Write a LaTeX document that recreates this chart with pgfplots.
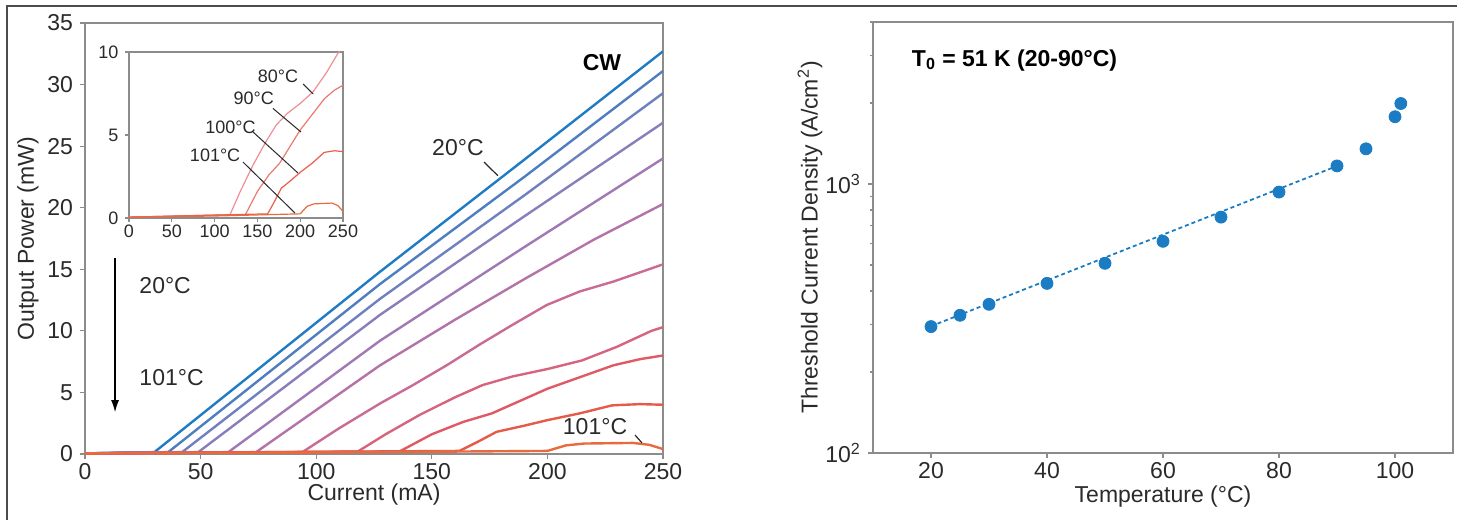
\documentclass[border=0pt]{standalone}
\usepackage{fontspec}
\setmainfont{Liberation Sans}
\usepackage{pgfplots}
\pgfplotsset{compat=1.18}
\usetikzlibrary{arrows.meta}

\definecolor{axgray}{HTML}{8C8C8C}
\definecolor{txt}{HTML}{2A2A2A}
\definecolor{c20}{HTML}{1F7BC4}
\definecolor{c25}{HTML}{4F7EC0}
\definecolor{c30}{HTML}{6F80BE}
\definecolor{c40}{HTML}{8A7DBA}
\definecolor{c50}{HTML}{9F78B4}
\definecolor{c60}{HTML}{B473A8}
\definecolor{c70}{HTML}{C86B95}
\definecolor{c80}{HTML}{D6647E}
\definecolor{c90}{HTML}{E05A65}
\definecolor{c100}{HTML}{E55A48}
\definecolor{c101}{HTML}{EA6A40}
\definecolor{i80}{HTML}{EE8E96}
\definecolor{i90}{HTML}{EC7A70}
\definecolor{i100}{HTML}{E8604A}
\definecolor{dot}{HTML}{1B7CC4}

\pgfplotsset{
  panel/.style={
    scale only axis,
    axis line style={draw=axgray, line width=0.6pt},
    every tick/.style={draw=axgray, line width=0.6pt},
    tick align=outside,
    xtick pos=left, ytick pos=left,
    major tick length=2.5pt, minor tick length=1.5pt,
    ticklabel style={font=\fontsize{11.5}{13}\selectfont, text=txt},
    xticklabel style={yshift=1.5pt},
    label style={font=\fontsize{11.5}{13}\selectfont, text=txt},
    /pgf/number format/assume math mode=true,
  },
}

\begin{document}
\begin{tikzpicture}
\useasboundingbox (0,0) rectangle (728.5pt,260pt);
\draw[color=black!70, line width=0.7pt] (3.5pt,0) -- (3.5pt,257pt) -- (728.5pt,257pt);

% left panel: L-I curves
\begin{axis}[panel,
    at={(42.5pt,33pt)}, anchor=south west,
    width=289pt, height=215.5pt,
    xmin=0, xmax=250, ymin=0, ymax=35,
    xtick={0,50,...,250}, ytick={0,5,...,35},
    xlabel={Current (mA)}, ylabel={Output Power (mW)},
    xlabel style={at={(axis description cs:0.5,-0.095)}, anchor=center},
    ylabel style={at={(axis description cs:-0.0986,0.5)}, anchor=center},
    no markers, every axis plot/.append style={line width=1.2pt, line join=round},
]
\addplot[c20] coordinates {(0,0.05) (30,0.15) (127.6,14.8) (190,23.9) (250,32.7)};
\addplot[c25] coordinates {(0,0.05) (36,0.15) (127.6,13.8) (190,22.5) (250,31.1)};
\addplot[c30] coordinates {(0,0.05) (42,0.15) (127.6,12.6) (190,21.0) (250,29.3)};
\addplot[c40] coordinates {(0,0.05) (49,0.15) (127.6,11.3) (190,19.3) (250,26.9)};
\addplot[c50] coordinates {(0,0.05) (62,0.15) (127.6,9.2) (190,16.8) (250,24.0)};
\addplot[c60] coordinates {(0,0.05) (74,0.15) (127.6,7.2) (160,10.9) (190,14.2) (220,17.4) (250,20.3)};
\addplot[c70] coordinates {(0,0.05) (94,0.15) (110,2.1) (127.6,4.1) (141.9,5.6) (156.4,7.2) (170.8,8.9) (185,10.5) (199.7,12.1) (214,13.2) (228.5,14.0) (250,15.4)};
\addplot[c80] coordinates {(0,0.05) (118,0.2) (130,1.6) (145,3.2) (160,4.6) (172,5.6) (185,6.3) (200,6.9) (215,7.6) (230,8.7) (245,10.0) (250,10.3)};
\addplot[c90] coordinates {(0,0.05) (136,0.2) (150,1.6) (163.5,2.6) (176,3.3) (188,4.3) (200,5.3) (215,6.3) (228.5,7.2) (240,7.7) (250,8.0)};
\addplot[c100] coordinates {(0,0.05) (162,0.25) (170,1.0) (178,1.8) (190,2.3) (200,2.75) (214,3.3) (228,3.95) (240,4.05) (250,4.0)};
\addplot[c101] coordinates {(0,0.05) (100,0.12) (200,0.25) (208,0.7) (216,0.85) (237,0.9) (244,0.75) (250,0.4)};

\node[font=\fontsize{11.5}{13}\selectfont\bfseries, text=black] at (axis cs:223.6,31.8) {CW};
\node[font=\fontsize{11.5}{13}\selectfont, text=txt] at (axis cs:161.3,24.85) {20°C};
\draw[txt, line width=0.6pt] (axis cs:172.6,23.7) -- (axis cs:178.6,22.6);
\node[font=\fontsize{11.5}{13}\selectfont, text=txt] at (axis cs:220.6,2.2) {101°C};
\draw[txt, line width=0.6pt] (axis cs:237.9,1.54) -- (axis cs:240.9,0.9);
\draw[black, line width=0.6pt, -{Latex[length=6pt,width=4pt]}] (axis cs:13,15.9) -- (axis cs:13,3.4);
\node[anchor=west, font=\fontsize{11.5}{13}\selectfont, text=txt] at (axis cs:20.5,13.7) {20°C};
\node[anchor=west, font=\fontsize{11.5}{13}\selectfont, text=txt] at (axis cs:20.5,6.2) {101°C};
\end{axis}

% inset
\begin{axis}[panel,
    at={(64.5pt,151pt)}, anchor=south west,
    width=107pt, height=83pt,
    xmin=0, xmax=250, ymin=0, ymax=10,
    xtick={0,50,...,250}, ytick={0,5,10},
    ticklabel style={font=\fontsize{9}{10}\selectfont},
    xticklabel style={yshift=0.5pt},
    major tick length=1.8pt,
    axis background/.style={fill=white},
    no markers, every axis plot/.append style={line width=0.6pt, line join=round},
]
\addplot[i80] coordinates {(0,0.05) (118,0.2) (130,1.6) (145,3.2) (160,4.6) (172,5.6) (185,6.3) (200,6.9) (215,7.6) (230,8.7) (245,10.0) (250,10.3)};
\addplot[i90] coordinates {(0,0.05) (136,0.2) (150,1.6) (163.5,2.6) (176,3.3) (188,4.3) (200,5.3) (215,6.3) (228.5,7.2) (240,7.7) (250,8.0)};
\addplot[i100] coordinates {(0,0.05) (162,0.25) (170,1.0) (178,1.8) (190,2.3) (200,2.75) (214,3.3) (228,3.95) (240,4.05) (250,4.0)};
\addplot[c101] coordinates {(0,0.05) (100,0.12) (200,0.25) (208,0.7) (216,0.85) (237,0.9) (244,0.75) (250,0.4)};
\node[font=\fontsize{9}{10}\selectfont, text=txt] at (axis cs:174.0,8.55) {80°C};
\draw[txt, line width=0.5pt] (axis cs:203.5,8.07) -- (axis cs:215.2,7.47);
\node[font=\fontsize{9}{10}\selectfont, text=txt] at (axis cs:145.8,7.2) {90°C};
\draw[txt, line width=0.5pt] (axis cs:168.2,6.6) -- (axis cs:200.9,5.18);
\node[font=\fontsize{9}{10}\selectfont, text=txt] at (axis cs:118.6,5.48) {100°C};
\draw[txt, line width=0.5pt] (axis cs:144.9,5.18) -- (axis cs:197.4,2.71);
\node[font=\fontsize{9}{10}\selectfont, text=txt] at (axis cs:100.6,3.8) {101°C};
\draw[txt, line width=0.5pt] (axis cs:133.2,3.37) -- (axis cs:193.9,0.30);
\end{axis}

% right panel: threshold current density
\begin{axis}[panel,
    at={(436.5pt,33.5pt)}, anchor=south west,
    width=290pt, height=215.5pt,
    ymode=log,
    xmin=10, xmax=110, ymin=100, ymax=4000,
    xtick={20,40,...,100},
    ytick={100,1000}, yticklabels={10\textsuperscript{2},10\textsuperscript{3}},
    minor ytick={200,300,400,500,600,700,800,900,2000,3000,4000},
    xlabel={Temperature (°C)}, ylabel={Threshold Current Density (A/cm\textsuperscript{2})},
    xlabel style={at={(axis description cs:0.5,-0.1)}, anchor=center},
    ylabel style={at={(axis description cs:-0.1086,0.5)}, anchor=center},
]
\addplot[dot, line width=0.9pt, dash pattern=on 2pt off 1.5pt, mark=none] coordinates {(20,296) (90,1166)};
\addplot[only marks, mark=*, mark size=3pt, color=dot] coordinates {
  (20,295) (25,325) (30,357) (40,427) (50,507) (60,612) (70,753) (80,933) (90,1167) (95,1351) (100,1778) (101,1991)
};
\node[anchor=west, font=\fontsize{11.5}{13}\selectfont\bfseries, text=black] at (axis cs:15.5,2880) {T\textsubscript{0} = 51 K (20-90°C)};
\end{axis}
\end{tikzpicture}
\end{document}
